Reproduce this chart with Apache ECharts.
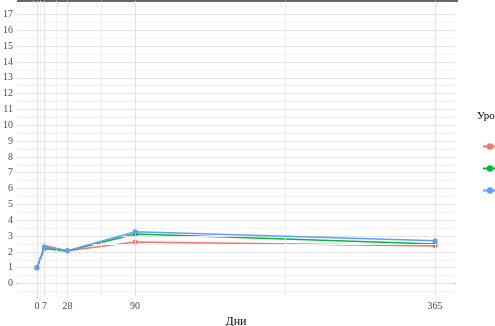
<!DOCTYPE html>
<html><head><meta charset="utf-8">
<script src="https://cdn.jsdelivr.net/npm/echarts@6/dist/echarts.min.js"></script>
<style>html,body{margin:0;padding:0;background:#fff}#c{width:495px;height:326px}</style>
</head><body><div id="c"></div>
<script>
const days = [0, 7, 28, 90, 365];
const seriesNames = ['1', '2', '3'];
const seriesColors = ['#F8766D', '#00BA38', '#619CFF'];
const redValues = [1, 2.40, 2.07, 2.62, 2.38];
const greenValues = [1, 2.22, 2.05, 3.13, 2.50];
const blueValues = [1, 2.30, 2.07, 3.27, 2.70];
const xTicks = [0, 7, 28, 90, 365];
const xMinor = [-3.5, 3.5, 17.5, 59, 227.5];
const yTicks = [0,1,2,3,4,5,6,7,8,9,10,11,12,13,14,15,16,17];
const yMinor = [-0.5,0.5,1.5,2.5,3.5,4.5,5.5,6.5,7.5,8.5,9.5,10.5,11.5,12.5,13.5,14.5,15.5,16.5,17.5];
const xLabel = 'Дни';
const legendTitle = 'Уровень';

const allValues = [redValues, greenValues, blueValues];
const font = '"Liberation Serif","DejaVu Serif",serif';

function gridLines(){
  const d = [];
  xMinor.forEach(v => d.push({xAxis: v, lineStyle:{color:'#f2f2f2', width:1, type:'solid'}}));
  yMinor.forEach(v => d.push({yAxis: v, lineStyle:{color:'#f2f2f2', width:1, type:'solid'}}));
  xTicks.forEach(v => d.push({xAxis: v, lineStyle:{color:'#e4e4e4', width:1, type:'solid'}}));
  yTicks.forEach(v => d.push({yAxis: v, lineStyle:{color:'#e4e4e4', width:1, type:'solid'}}));
  return d;
}

const series = [{
  type: 'line', name: '_grid', data: [[0, 1]], symbolSize: 0, lineStyle:{opacity:0}, z: 1, silent: true,
  markLine: { silent: true, symbol: ['none','none'], label: {show:false}, animation:false, data: gridLines() }
}];
seriesNames.forEach((n, i) => {
  series.push({
    type: 'line', name: n, z: 3 + i,
    data: days.map((d, j) => [d, allValues[i][j]]),
    symbol: 'circle', symbolSize: 5,
    itemStyle: {color: seriesColors[i]},
    lineStyle: {color: seriesColors[i], width: 1.6},
    animation: false
  });
});

const chart = echarts.init(document.getElementById('c'), null, {renderer: 'canvas'});
chart.setOption({
  backgroundColor: '#fff',
  animation: false,
  grid: {left: 17, right: 40, top: 1, bottom: 29, containLabel: false, outerBoundsMode: 'none'},
  legend: {
    data: seriesNames, orient: 'vertical', left: 477, top: 136,
    itemWidth: 14, itemHeight: 8, itemGap: 11,
    textStyle: {fontFamily: font, fontSize: 11, color: '#000'}
  },
  graphic: [
    {type: 'text', left: 477, top: 111, style: {text: legendTitle, font: '11px ' + font, fill: '#000'}},
    {type: 'line', shape: {x1: 17, y1: 1, x2: 458, y2: 1}, style: {stroke: '#333', lineWidth: 1.5}}
  ],
  xAxis: {
    type: 'value', min: -18.25, max: 383.25,
    name: xLabel, nameLocation: 'middle', nameGap: 16,
    nameTextStyle: {fontFamily: font, fontSize: 12, color: '#000'},
    axisLine: {show: true, lineStyle: {color: '#333', width: 1}},
    axisTick: {show: true, customValues: xTicks, length: 3, lineStyle: {color: '#333'}},
    axisLabel: {show: true, customValues: xTicks, margin: 4, fontFamily: font, fontSize: 10, color: '#4d4d4d', hideOverlap: false},
    splitLine: {show: false}
  },
  yAxis: {
    type: 'value', min: -0.85, max: 17.85,
    axisLine: {show: true, lineStyle: {color: '#333', width: 1}},
    axisTick: {show: true, customValues: yTicks, length: 3, lineStyle: {color: '#333'}},
    axisLabel: {show: true, customValues: yTicks, margin: 4, fontFamily: font, fontSize: 10, color: '#4d4d4d'},
    splitLine: {show: false}
  },
  series: series
});
</script></body></html>
